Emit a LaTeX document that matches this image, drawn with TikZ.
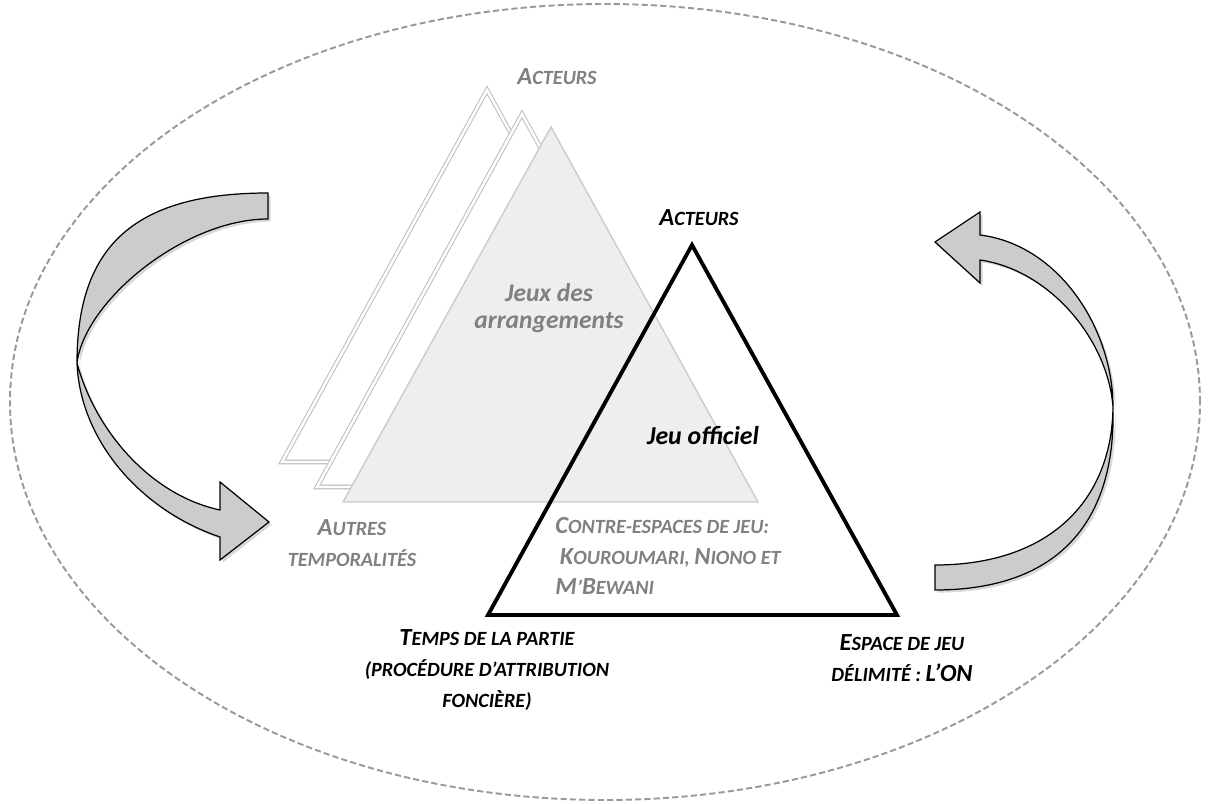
\documentclass[tikz,border=0pt]{standalone}
\usepackage{fontspec}
\setmainfont{Carlito}
\usepackage{xcolor}
\usepackage{tikz}
\usetikzlibrary{shapes.geometric, shadows}

\newcommand\initcap[1]{{\fontsize{14}{17.6}\selectfont #1}}

\begin{document}
\begin{tikzpicture}[x=0.02cm, y=-0.02cm,
  txt/.style={font=\fontsize{11.5}{17.6}\selectfont\bfseries\itshape, align=center, inner sep=0pt},
  grey/.style={txt, text=gray},
  ghost/.style={draw=gray!50, double=white, double distance=1.4pt, line width=0.6pt, fill=white},
  turn/.style={draw=black, line width=0.7pt, fill=gray!40, drop shadow={shadow xshift=1.5pt, shadow yshift=-1.5pt, opacity=0.3}}]
  \useasboundingbox (0,0) rectangle (1208,804);

  % frame
  \node [draw=gray!80, dashed, dash pattern=on 3.5pt off 1.8pt, line width=1.1pt, ellipse, minimum width=1190*0.02cm, minimum height=796*0.02cm, inner sep=0pt] (frame) at (605,402) {};

  % shadow games
  \draw [ghost] (487,90) -- (692,462) -- (282,462) -- cycle;
  \draw [ghost] (522,114) -- (727,487) -- (317,487) -- cycle;
  \draw [draw=gray!40, fill=gray!13, line width=0.8pt] (551,127) -- (758,502) -- (343,502) -- cycle;

  % official game
  \draw [line width=2.2pt] (692,245) -- (897,615) -- (488,615) -- cycle;

  % cycle arrows
  \path [turn] (268,193) .. controls (130,193) and (77,250) .. (77,363)
    .. controls (80,440) and (140,510) .. (220,537) -- (220,560) -- (269,522) -- (220,482) -- (220,510)
    .. controls (150,495) and (95,430) .. (77,363)
    .. controls (85,300) and (185,219) .. (268,219) -- cycle;
  \path [turn] (980,235) .. controls (1060,245) and (1113,330) .. (1113,407)
    .. controls (1116,520) and (1060,590) .. (935,590) -- (935,565)
    .. controls (1050,565) and (1112,500) .. (1113,407)
    .. controls (1108,340) and (1050,270) .. (980,260) -- (980,283) -- (935,242) -- (980,212) -- cycle;

  % labels
  \node [grey] (acteursgris) at (557,77) {\initcap{A}CTEURS};
  \node [txt] (acteurs) at (699,218) {\initcap{A}CTEURS};
  \node [grey, font=\fontsize{14.5}{15.5}\selectfont\bfseries\itshape] (arrangements) at (549,308) {Jeux des\\arrangements};
  \node [txt, font=\fontsize{14.7}{17.6}\selectfont\bfseries\itshape] (officiel) at (703,436) {Jeu officiel};
  \node [grey, align=left, anchor=west] (contre) at (555,556) {\initcap{C}ONTRE-ESPACES DE JEU:\\\ \initcap{K}OUROUMARI, \initcap{N}IONO ET\\\initcap{M}’\initcap{B}EWANI};
  \node [grey] (autres) at (352,543) {\initcap{A}UTRES\\TEMPORALITÉS};
  \node [txt] (temps) at (487,670) {\initcap{T}EMPS DE LA PARTIE\\(PROCÉDURE D’ATTRIBUTION\\FONCIÈRE)};
  \node [txt] (espace) at (902,658) {\initcap{E}SPACE DE JEU\\DÉLIMITÉ : \initcap{L’ON}};
\end{tikzpicture}
\end{document}
